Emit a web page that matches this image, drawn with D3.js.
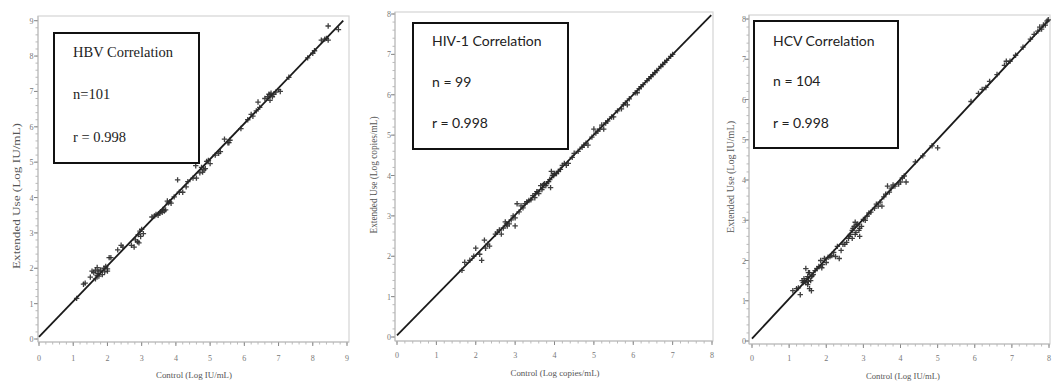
<!DOCTYPE html>
<html>
<head>
<meta charset="utf-8">
<script src="https://cdn.jsdelivr.net/npm/d3@7"></script>
<style>
  html, body { margin: 0; padding: 0; background: #fff; }
  svg { display: block; }
</style>
</head>
<body>
<svg id="chart" width="1052" height="386"></svg>
<script>
// ---------------- DATA ----------------
// HBV panel
const hbvTitle = "HBV Correlation";
const hbvN = "n=101";
const hbvR = "r = 0.998";
const hbvXLabel = "Control (Log IU/mL)";
const hbvYLabel = "Extended Use (Log IU/mL)";
const hbvTicks = [0, 1, 2, 3, 4, 5, 6, 7, 8, 9];
const hbvControl = [1.10, 1.30, 1.35, 1.55, 1.60, 1.65, 1.65, 1.70, 1.70, 1.72, 1.75, 1.75, 1.80, 1.85, 1.90, 1.92, 1.95, 2.00, 2.00, 2.05, 2.10,
  2.40, 2.45, 2.70, 2.78, 2.82, 2.88, 2.90, 2.92, 2.95, 2.97, 3.00, 3.05,
  3.30, 3.38, 3.42, 3.48, 3.52, 3.55, 3.60, 3.62, 3.66, 3.70, 3.75, 3.78, 3.82, 3.86, 3.95,
  4.05, 4.10, 4.20, 4.30, 4.35, 4.50, 4.58, 4.60, 4.70, 4.75, 4.78, 4.82, 4.86, 4.90, 4.95, 5.00,
  5.15, 5.25, 5.30, 5.42, 5.52, 5.55, 5.58,
  5.90, 6.10, 6.20, 6.25, 6.35, 6.40, 6.45,
  6.60, 6.68, 6.72, 6.75, 6.75, 6.78, 6.82, 6.86, 6.92, 7.00, 7.05,
  7.30, 7.85, 8.00, 8.05, 8.25, 8.35, 8.40, 8.45, 8.45, 8.75, 2.30, 1.50];
const hbvExtended = [1.15, 1.55, 1.58, 1.92, 1.88, 1.70, 1.95, 1.80, 2.02, 1.85, 1.78, 1.92, 1.95, 1.82, 2.00, 1.90, 2.05, 1.98, 1.92, 2.30, 2.30,
  2.65, 2.60, 2.65, 2.60, 2.80, 2.75, 2.95, 2.72, 3.05, 2.90, 3.10, 2.98,
  3.45, 3.48, 3.52, 3.50, 3.56, 3.60, 3.58, 3.66, 3.62, 3.65, 3.90, 3.85, 3.88, 3.84, 4.02,
  4.50, 4.15, 4.15, 4.30, 4.45, 4.55, 4.90, 4.55, 4.70, 4.85, 4.72, 4.78, 4.82, 5.02, 5.05, 4.96,
  5.20, 5.25, 5.30, 5.65, 5.55, 5.55, 5.62,
  5.95, 6.20, 6.35, 6.30, 6.45, 6.70, 6.55,
  6.80, 6.85, 6.92, 6.75, 6.90, 6.95, 6.85, 6.92, 6.98, 7.05, 7.00,
  7.40, 7.95, 8.08, 8.15, 8.45, 8.48, 8.50, 8.85, 8.45, 8.75, 2.52, 1.75];
const hbvFitX = [0, 8.89];
const hbvFitY = [0.06, 9.0];

// HIV-1 panel
const hivTitle = "HIV-1 Correlation";
const hivN = "n = 99";
const hivR = "r = 0.998";
const hivXLabel = "Control (Log copies/mL)";
const hivYLabel = "Extended Use (Log copies/mL)";
const hivTicks = [0, 1, 2, 3, 4, 5, 6, 7, 8];
const hivControl = [1.65, 1.72, 1.85, 1.95, 2.00, 2.10, 2.15, 2.22, 2.25, 2.30, 2.35,
  2.55, 2.60, 2.65, 2.70, 2.75, 2.80, 2.85, 2.90, 2.95, 3.00, 3.00, 3.05, 3.10, 3.15, 3.25, 3.30,
  3.40, 3.45, 3.50, 3.52, 3.55, 3.60, 3.65, 3.68, 3.70, 3.75, 3.78, 3.80, 3.85, 3.88, 3.90, 3.92, 3.95, 4.00, 4.05, 4.10,
  4.20, 4.25, 4.30, 4.35,
  4.50, 4.60, 4.70, 4.75, 4.80, 4.85, 4.95, 5.00, 5.05, 5.10, 5.20, 5.25, 5.30, 5.35, 5.50, 5.60, 5.70, 5.80, 5.85, 5.90,
  6.10, 6.15, 6.20, 6.25, 6.35, 6.40, 6.45, 6.50, 6.60, 6.70, 6.75, 6.80, 6.85, 6.95, 7.00,
  3.35, 3.58, 3.72, 3.98, 4.15, 2.78, 2.50, 3.20, 4.45, 5.15, 5.45, 5.75, 6.05, 6.55];
const hivExtended = [1.65, 1.85, 1.90, 2.00, 2.20, 2.05, 1.90, 2.40, 2.20, 2.30, 2.25,
  2.60, 2.65, 2.55, 2.70, 2.85, 2.75, 2.80, 2.90, 3.00, 2.75, 2.95, 3.30, 3.10, 3.25, 3.30, 3.35,
  3.40, 3.50, 3.45, 3.55, 3.60, 3.55, 3.75, 3.65, 3.70, 3.80, 3.75, 3.80, 3.85, 3.90, 3.70, 4.10, 4.00, 4.05, 4.05, 4.10,
  4.25, 4.30, 4.25, 4.30,
  4.55, 4.60, 4.70, 4.75, 4.80, 4.75, 4.95, 5.15, 5.05, 5.10, 5.25, 5.15, 5.30, 5.35, 5.45, 5.60, 5.65, 5.80, 5.75, 5.90,
  6.05, 6.15, 6.20, 6.25, 6.35, 6.40, 6.45, 6.50, 6.60, 6.70, 6.75, 6.80, 6.85, 6.95, 7.00,
  3.38, 3.60, 3.78, 4.00, 4.15, 2.80, 2.55, 3.20, 4.45, 5.15, 5.45, 5.75, 6.05, 6.55];
const hivFitX = [0, 7.98];
const hivFitY = [0.04, 7.97];

// HCV panel
const hcvTitle = "HCV Correlation";
const hcvN = "n = 104";
const hcvR = "r = 0.998";
const hcvXLabel = "Control (Log IU/mL)";
const hcvYLabel = "Extended Use (Log IU/mL)";
const hcvTicks = [0, 1, 2, 3, 4, 5, 6, 7, 8];
const hcvControl = [1.10, 1.20, 1.30, 1.35, 1.40, 1.42, 1.45, 1.45, 1.48, 1.50, 1.50, 1.52, 1.55, 1.55, 1.58, 1.60, 1.60, 1.65, 1.70,
  1.80, 1.85, 1.88, 1.90, 1.95, 2.00, 2.10, 2.20, 2.25, 2.30, 2.35, 2.40,
  2.50, 2.55, 2.62, 2.65, 2.70, 2.70, 2.72, 2.75, 2.78, 2.80, 2.82, 2.85, 2.88, 2.90, 2.90, 2.95, 3.05, 3.10, 3.20, 3.30, 3.35, 3.45, 3.50,
  3.60, 3.65, 3.70, 3.75, 3.85, 3.95, 4.05, 4.10, 4.15,
  4.40, 4.60, 4.85, 5.00,
  5.90, 6.10, 6.20, 6.40, 6.80, 6.85, 6.95, 7.30, 7.50, 7.70, 7.75, 7.80, 7.85, 7.90, 7.95,
  1.25, 1.38, 1.62, 1.75, 2.05, 2.15, 2.45, 2.60, 3.00, 3.15, 3.40, 3.55, 3.80, 4.00, 6.30, 6.60, 7.10, 7.60, 7.98, 1.52, 2.78];
const hcvExtended = [1.25, 1.30, 1.15, 1.50, 1.55, 1.48, 1.45, 1.80, 1.55, 1.40, 1.60, 1.70, 1.30, 1.70, 1.50, 1.60, 1.25, 1.65, 1.75,
  1.85, 2.00, 1.82, 1.90, 2.05, 1.95, 2.10, 2.20, 2.10, 2.35, 2.05, 2.25,
  2.40, 2.45, 2.60, 2.65, 2.75, 2.55, 2.80, 2.85, 2.65, 2.70, 2.88, 2.90, 2.75, 2.80, 2.60, 2.85, 3.00, 3.10, 3.20, 3.30, 3.40, 3.45, 3.35,
  3.65, 3.85, 3.70, 3.80, 3.85, 3.90, 4.05, 4.10, 3.95,
  4.45, 4.60, 4.85, 4.80,
  5.95, 6.15, 6.25, 6.45, 6.85, 6.95, 6.95, 7.30, 7.50, 7.70, 7.80, 7.75, 7.85, 7.85, 7.95,
  1.32, 1.45, 1.62, 1.80, 2.08, 2.12, 2.40, 2.55, 3.02, 3.18, 3.35, 3.58, 3.88, 3.95, 6.30, 6.62, 7.10, 7.62, 7.98, 1.48, 2.95];
const hcvFitX = [0, 8.0];
const hcvFitY = [0.06, 7.98];

// --------------- LAYOUT ---------------
const panels = [
  { title: hbvTitle, n: hbvN, r: hbvR, xLabel: hbvXLabel, yLabel: hbvYLabel, ticks: hbvTicks,
    xs: hbvControl, ys: hbvExtended, fitX: hbvFitX, fitY: hbvFitY,
    xr: [39, 347], yr: [339, 20.7], frame: [38, 16, 349, 342],
    box: [54, 33, 199, 163], textX: 73, base: [57, 99, 142], font: "'Liberation Serif', 'Times New Roman', serif", fsize: 14.5,
    tickLabelX: 31.5, tickLabelY: 361, xl: [194, 378, 76], yl: [17, 196, 146] },
  { title: hivTitle, n: hivN, r: hivR, xLabel: hivXLabel, yLabel: hivYLabel, ticks: hivTicks,
    xs: hivControl, ys: hivExtended, fitX: hivFitX, fitY: hivFitY,
    xr: [397, 712], yr: [337, 14], frame: [395, 12, 713, 341],
    box: [413, 23, 568, 149], textX: 432, base: [46, 87, 128], font: "Lato, 'Open Sans', sans-serif", fsize: 14,
    tickLabelX: 389, tickLabelY: 358, xl: [555, 376, 89], yl: [374, 175, 117] },
  { title: hcvTitle, n: hcvN, r: hcvR, xLabel: hcvXLabel, yLabel: hcvYLabel, ticks: hcvTicks,
    xs: hcvControl, ys: hcvExtended, fitX: hcvFitX, fitY: hcvFitY,
    xr: [752, 1049], yr: [341, 19], frame: [749, 15, 1050, 344],
    box: [754, 21, 898, 148], textX: 773, base: [46, 86, 128], font: "Lato, 'Open Sans', sans-serif", fsize: 14,
    tickLabelX: 744, tickLabelY: 361, xl: [903, 379, 74], yl: [731, 177, 112] }
];

const svg = d3.select("#chart");
const serif = "'Liberation Serif', 'Times New Roman', serif";

panels.forEach(p => {
  const maxT = p.ticks[p.ticks.length - 1];
  const x = d3.scaleLinear().domain([0, maxT]).range(p.xr);
  const y = d3.scaleLinear().domain([0, maxT]).range(p.yr);
  const g = svg.append("g");
  const [fl, ft, fr, fb] = p.frame;

  // frame
  g.append("rect").attr("x", fl).attr("y", ft).attr("width", fr - fl).attr("height", fb - ft)
    .attr("fill", "none").attr("stroke", "#d4d4d4").attr("stroke-width", 1.2);

  // minor ticks
  const minor = d3.range(0, maxT + 0.001, 0.2);
  g.selectAll(".mx").data(minor).join("line")
    .attr("x1", d => x(d)).attr("x2", d => x(d)).attr("y1", fb).attr("y2", fb + 2.5)
    .attr("stroke", "#aaa").attr("stroke-width", 0.8);
  g.selectAll(".my").data(minor).join("line")
    .attr("y1", d => y(d)).attr("y2", d => y(d)).attr("x1", fl).attr("x2", fl - 2.5)
    .attr("stroke", "#aaa").attr("stroke-width", 0.8);
  // major ticks
  g.selectAll(".Mx").data(p.ticks).join("line")
    .attr("x1", d => x(d)).attr("x2", d => x(d)).attr("y1", fb).attr("y2", fb + 4)
    .attr("stroke", "#888").attr("stroke-width", 1);
  g.selectAll(".My").data(p.ticks).join("line")
    .attr("y1", d => y(d)).attr("y2", d => y(d)).attr("x1", fl).attr("x2", fl - 4)
    .attr("stroke", "#888").attr("stroke-width", 1);
  // axis lines slightly darker
  g.append("line").attr("x1", fl).attr("x2", fr).attr("y1", fb).attr("y2", fb).attr("stroke", "#bbb");
  g.append("line").attr("x1", fl).attr("x2", fl).attr("y1", ft).attr("y2", fb).attr("stroke", "#bbb");

  // tick labels
  g.selectAll(".tx").data(p.ticks).join("text")
    .attr("x", d => x(d)).attr("y", p.tickLabelY).attr("text-anchor", "middle")
    .attr("font-family", serif).attr("font-size", 8).attr("fill", "#777").text(d => d);
  g.selectAll(".ty").data(p.ticks).join("text")
    .attr("x", p.tickLabelX).attr("y", d => y(d) + 3).attr("text-anchor", "middle")
    .attr("font-family", serif).attr("font-size", 8).attr("fill", "#777").text(d => d);

  // axis labels
  g.append("text").attr("x", p.xl[0]).attr("y", p.xl[1]).attr("text-anchor", "middle")
    .attr("font-family", serif).attr("font-size", 9).attr("fill", "#555")
    .attr("textLength", p.xl[2]).attr("lengthAdjust", "spacingAndGlyphs").text(p.xLabel);
  g.append("text").attr("transform", `translate(${p.yl[0]},${p.yl[1]}) rotate(-90)`)
    .attr("text-anchor", "middle").attr("dy", "0.35em")
    .attr("font-family", serif).attr("font-size", 9.5).attr("fill", "#555")
    .attr("textLength", p.yl[2]).attr("lengthAdjust", "spacingAndGlyphs").text(p.yLabel);

  // fit line
  const line = d3.line().x(d => x(d[0])).y(d => y(d[1]));
  g.append("path").datum(d3.zip(p.fitX, p.fitY)).attr("d", line)
    .attr("fill", "none").attr("stroke", "#1a1a1a").attr("stroke-width", 1.8);

  // points (plus markers)
  const pts = d3.zip(p.xs, p.ys);
  const s = 2.7;
  g.selectAll(".pt").data(pts).join("path")
    .attr("d", d => `M${x(d[0]) - s},${y(d[1])}h${2 * s}M${x(d[0])},${y(d[1]) - s}v${2 * s}`)
    .attr("stroke", "#2a2a2a").attr("stroke-width", 1.3).attr("fill", "none").attr("opacity", 0.9);

  // legend box
  const [bl, bt, br, bb] = p.box;
  g.append("rect").attr("x", bl).attr("y", bt).attr("width", br - bl).attr("height", bb - bt)
    .attr("fill", "#fff").attr("stroke", "#111").attr("stroke-width", 2);
  [p.title, p.n, p.r].forEach((t, i) => {
    g.append("text").attr("x", p.textX).attr("y", p.base[i])
      .attr("font-family", p.font).attr("font-size", p.fsize).attr("fill", "#222").text(t);
  });
});
</script>
</body>
</html>
